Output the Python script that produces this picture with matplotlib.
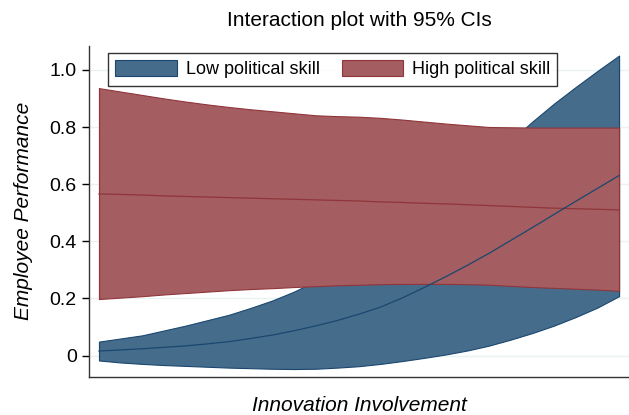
import matplotlib
matplotlib.use("Agg")
import matplotlib.pyplot as plt
from matplotlib.patches import Patch

plt.rcParams['font.family'] = ['Liberation Sans', 'DejaVu Sans']

# innovation involvement (no ticks shown on the original axis)
x = [1.0, 1.25, 1.5, 1.75, 2.0, 2.25, 2.5, 2.75, 3.0, 3.25, 3.5, 3.75, 4.0,
     4.25, 4.5, 4.75, 5.0, 5.25, 5.5, 5.75, 6.0, 6.25, 6.5, 6.75, 7.0]

# low political skill: prediction and 95% CI
low_mid = [0.016, 0.020, 0.024, 0.029, 0.034, 0.041, 0.049, 0.060, 0.072, 0.087, 0.104, 0.123, 0.145,
           0.170, 0.202, 0.238, 0.276, 0.316, 0.358, 0.403, 0.448, 0.494, 0.540, 0.585, 0.630]
low_lo = [-0.017, -0.024, -0.029, -0.033, -0.036, -0.039, -0.042, -0.044, -0.046, -0.047, -0.046, -0.042, -0.037,
          -0.029, -0.019, -0.008, 0.004, 0.018, 0.035, 0.056, 0.079, 0.105, 0.135, 0.168, 0.208]
low_hi = [0.049, 0.060, 0.071, 0.088, 0.105, 0.124, 0.143, 0.167, 0.193, 0.224, 0.261, 0.302, 0.347,
          0.396, 0.448, 0.503, 0.561, 0.622, 0.686, 0.752, 0.819, 0.882, 0.940, 0.996, 1.050]

# high political skill: prediction and 95% CI
high_mid = [0.566, 0.564, 0.562, 0.559, 0.557, 0.555, 0.553, 0.551, 0.549, 0.547, 0.545, 0.543, 0.541,
            0.538, 0.536, 0.533, 0.531, 0.528, 0.525, 0.522, 0.519, 0.516, 0.514, 0.512, 0.510]
high_lo = [0.198, 0.203, 0.208, 0.214, 0.219, 0.224, 0.229, 0.233, 0.236, 0.240, 0.243, 0.246, 0.248,
           0.250, 0.251, 0.251, 0.251, 0.250, 0.248, 0.244, 0.240, 0.237, 0.234, 0.231, 0.227]
high_hi = [0.936, 0.924, 0.912, 0.900, 0.889, 0.879, 0.870, 0.862, 0.855, 0.848, 0.841, 0.838, 0.836,
           0.832, 0.826, 0.819, 0.812, 0.806, 0.800, 0.799, 0.798, 0.798, 0.798, 0.798, 0.798]

yticks = [0, 0.2, 0.4, 0.6, 0.8, 1.0]
ytick_labels = ['0', '0.2', '0.4', '0.6', '0.8', '1.0']

blue_fill = '#466c8c'
blue_line = '#1a476f'
red_fill = '#a45d60'
red_line = '#90353b'

fig = plt.figure(figsize=(6.29, 4.15), dpi=100)
ax = fig.add_axes([0.142, 0.0925, 0.858, 0.797])

for yv in yticks:
    ax.axhline(yv, color='#eaf2f3', lw=1, zorder=0)

ax.fill_between(x, low_lo, low_hi, facecolor=blue_fill, edgecolor=blue_line, lw=0.8, zorder=2)
ax.plot([x[0], x[0]], [low_lo[0], low_hi[0]], color=blue_line, lw=0.8, zorder=2)
ax.plot([x[-1], x[-1]], [low_lo[-1], low_hi[-1]], color=blue_line, lw=0.8, zorder=2)

ax.fill_between(x, high_lo, high_hi, facecolor=red_fill, edgecolor=red_line, lw=0.8, zorder=3)
ax.plot([x[0], x[0]], [high_lo[0], high_hi[0]], color=red_line, lw=0.8, zorder=3)
ax.plot([x[-1], x[-1]], [high_lo[-1], high_hi[-1]], color=red_line, lw=0.8, zorder=3)

ax.plot(x, high_mid, color=red_line, lw=0.9, zorder=4)
ax.plot(x, low_mid, color=blue_line, lw=0.9, zorder=5)

ax.set_xlim(0.888, 7.115)
ax.set_ylim(-0.0735, 1.084)
ax.set_xticks([])
ax.set_yticks(yticks)
ax.set_yticklabels(ytick_labels)
ax.tick_params(axis='y', direction='out', length=5, width=1, labelsize=14, pad=4)

for s in ['top', 'right']:
    ax.spines[s].set_visible(False)
for s in ['left', 'bottom']:
    ax.spines[s].set_linewidth(1.0)
    ax.spines[s].set_color('#333333')

ax.set_title('Interaction plot with 95% CIs', fontsize=15, pad=14)
ax.set_ylabel('Employee Performance', fontsize=15, style='italic', labelpad=12)
ax.set_xlabel('Innovation Involvement', fontsize=15, style='italic', labelpad=14)

handles = [Patch(facecolor=blue_fill, edgecolor=blue_line, lw=0.8, label='Low political skill'),
           Patch(facecolor=red_fill, edgecolor=red_line, lw=0.8, label='High political skill')]
leg = ax.legend(handles=handles, loc='upper left', bbox_to_anchor=(0.035, 0.979), ncol=2,
                fontsize=13, frameon=True, fancybox=False, borderaxespad=0,
                handlelength=3.4, handleheight=1.0, handletextpad=0.5,
                columnspacing=1.2, borderpad=0.4)
leg.get_frame().set_edgecolor('black')
leg.get_frame().set_linewidth(1.0)
leg.set_zorder(6)

fig.savefig('out.png', dpi=100)
